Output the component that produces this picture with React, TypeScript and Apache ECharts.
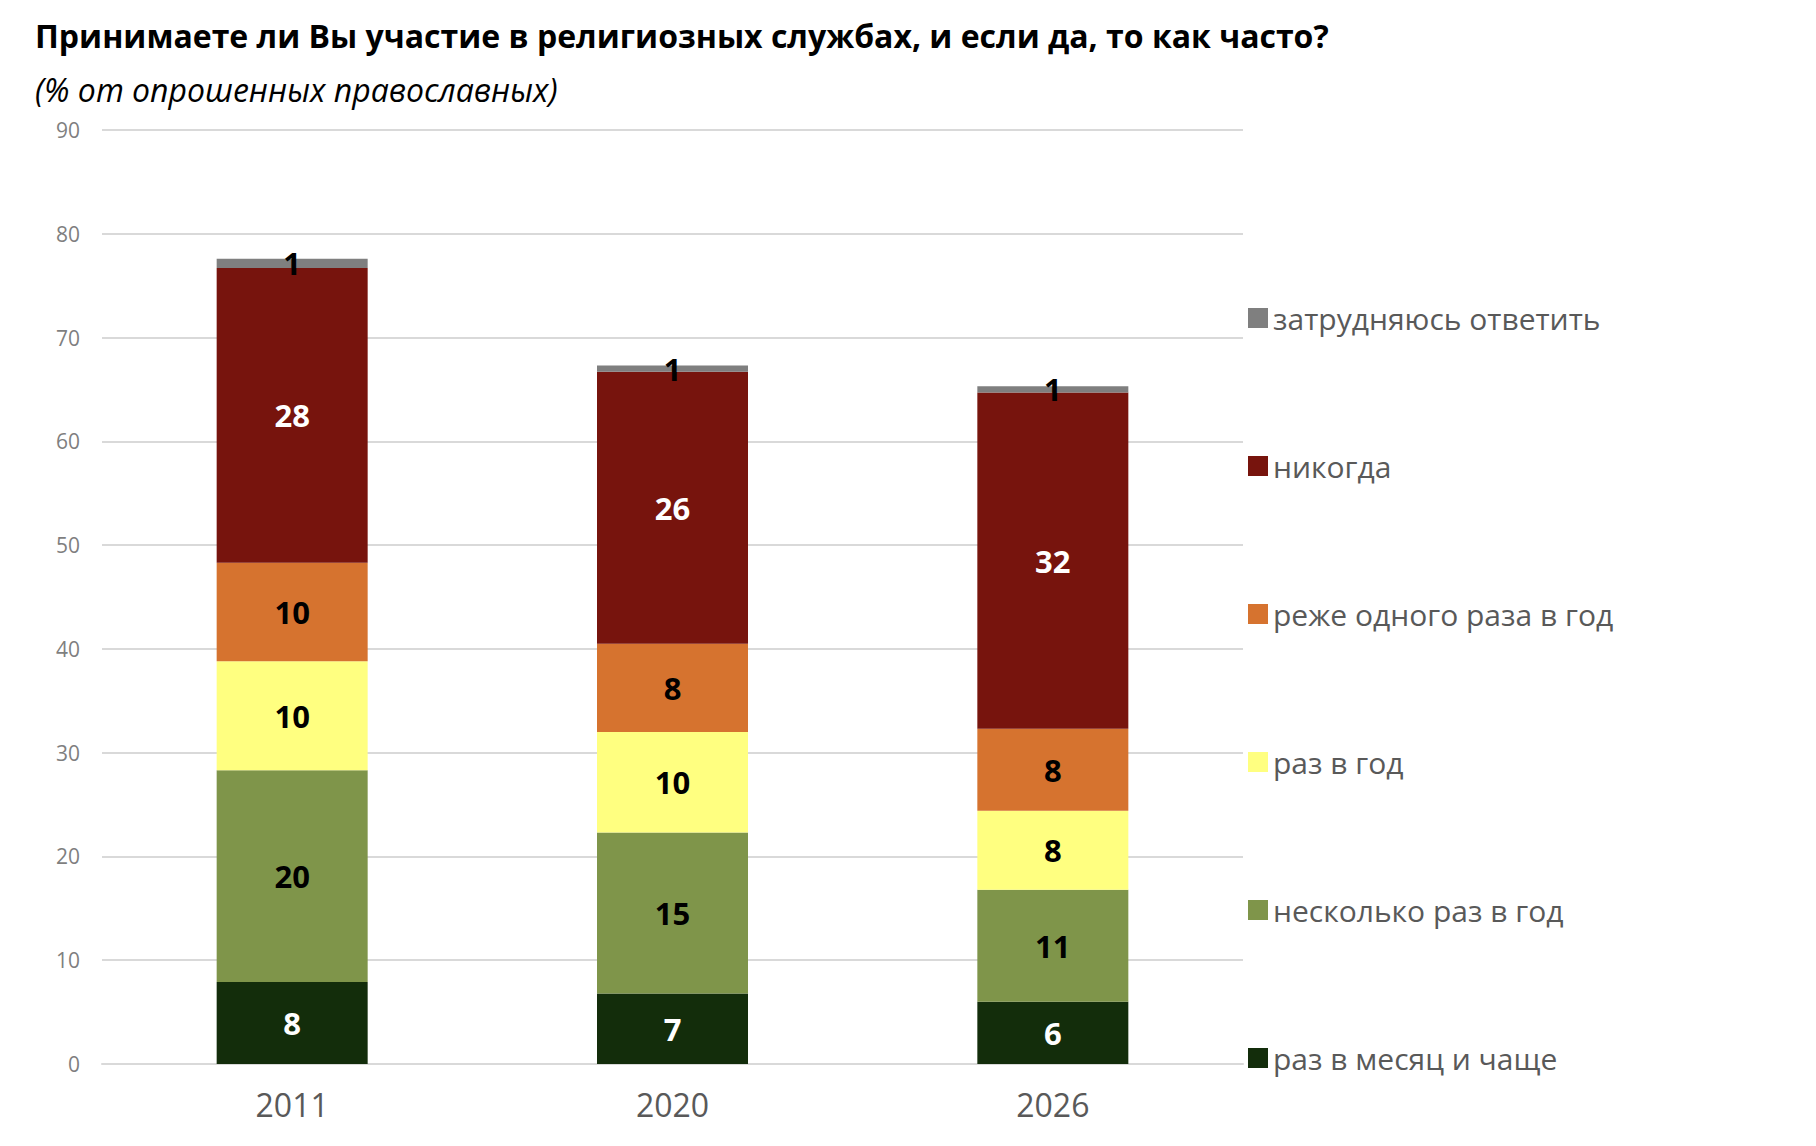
import { useEffect, useRef } from 'react'
import * as echarts from 'echarts'

const years = ['2011', '2020', '2026']
const seriesNames = [
  'раз в месяц и чаще',
  'несколько раз в год',
  'раз в год',
  'реже одного раза в год',
  'никогда',
  'затрудняюсь ответить',
]
const colors = ['#132d0b', '#7f954a', '#ffff80', '#d6732f', '#77140d', '#7f7f7f']
const labelColors = ['#fff', '#000', '#000', '#000', '#fff', '#000']
const values = [
  [7.9, 6.8, 6.0],
  [20.4, 15.5, 10.8],
  [10.5, 9.7, 7.6],
  [9.5, 8.5, 7.9],
  [28.4, 26.2, 32.4],
  [0.9, 0.6, 0.6],
]
const labels = [
  [8, 7, 6],
  [20, 15, 11],
  [10, 10, 8],
  [10, 8, 8],
  [28, 26, 32],
  [1, 1, 1],
]

const font = '"Open Sans", sans-serif'

export default function App() {
  const ref = useRef<HTMLDivElement>(null)

  useEffect(() => {
    if (!ref.current) return
    const chart = echarts.init(ref.current, undefined, { renderer: 'svg' })
    chart.setOption({
      animation: false,
      textStyle: { fontFamily: font },
      title: [
        {
          text: 'Принимаете ли Вы участие в религиозных службах, и если да, то как часто?',
          left: 30,
          top: 14,
          textStyle: { fontSize: 32, fontWeight: 'bold', color: '#000', fontFamily: font },
        },
        {
          text: '(% от опрошенных православных)',
          left: 30,
          top: 68,
          textStyle: { fontSize: 32, fontStyle: 'italic', fontWeight: 'normal', color: '#000', fontFamily: font },
        },
      ],
      grid: { left: 102, right: 573, top: 130, bottom: 82 },
      legend: {
        orient: 'vertical',
        left: 1243,
        top: 298,
        itemGap: 118,
        itemWidth: 20,
        itemHeight: 20,
        icon: 'rect',
        data: [...seriesNames].reverse(),
        textStyle: { fontSize: 30, color: '#595959', fontFamily: font },
      },
      xAxis: {
        type: 'category',
        data: years,
        axisLine: { lineStyle: { color: '#d9d9d9', width: 2 } },
        axisTick: { show: false },
        axisLabel: { fontSize: 32, color: '#595959', margin: 24 },
      },
      yAxis: {
        type: 'value',
        min: 0,
        max: 90,
        interval: 10,
        axisLine: { show: false },
        axisTick: { show: false },
        splitLine: { lineStyle: { color: '#d9d9d9', width: 2 } },
        axisLabel: { fontSize: 21, color: '#7f7f7f', margin: 22 },
      },
      series: seriesNames.map((name, i) => ({
        name,
        type: 'bar',
        stack: 'total',
        barWidth: 151,
        data: values[i],
        itemStyle: { color: colors[i] },
        label: {
          show: true,
          position: 'inside',
          formatter: (p: any) => String(labels[i][p.dataIndex]),
          fontSize: 31,
          fontWeight: 'bold',
          color: labelColors[i],
          fontFamily: font,
        },
      })),
    })
    return () => chart.dispose()
  }, [])

  return (
    <div
      ref={ref}
      style={{ position: 'absolute', left: 0, top: 0, width: 1816, height: 1146, background: '#fff' }}
    />
  )
}
